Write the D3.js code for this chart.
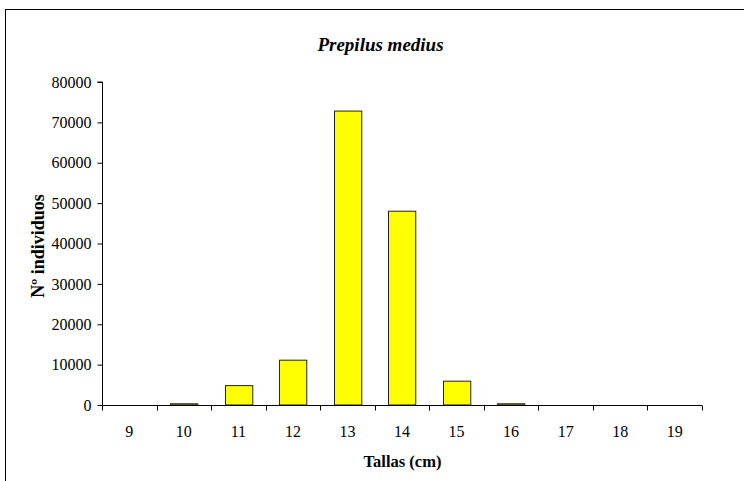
<!DOCTYPE html>
<html><head><meta charset="utf-8">
<script src="https://cdn.jsdelivr.net/npm/d3@7"></script>
<style>body{margin:0;background:#fff}svg{display:block}text{font-family:"Liberation Serif","Times New Roman",serif}</style>
</head><body>
<svg id="c" width="744" height="481"></svg>
<script>
const categories = ["9","10","11","12","13","14","15","16","17","18","19"];
const values = [0, 300, 4800, 11100, 72800, 48000, 5900, 300, 0, 0, 0];
const yTicks = [0,10000,20000,30000,40000,50000,60000,70000,80000];
const title = "Prepilus medius";
const xTitle = "Tallas (cm)";
const yTitle = "Nº individuos";

const svg = d3.select("#c");
svg.append("rect").attr("x",5.5).attr("y",9.5).attr("width",760).attr("height",490)
  .attr("fill","none").attr("stroke","#000").attr("stroke-width",1);

const m = {l:102, r:702, t:82, b:405};
const x = d3.scaleBand().domain(categories).range([m.l, m.r]).paddingInner(0.5).paddingOuter(0.25);
const y = d3.scaleLinear().domain([0,80000]).range([m.b, m.t]);

svg.selectAll("rect.bar").data(values).enter().append("rect").attr("class","bar")
  .attr("x",(d,i)=>Math.round(x(categories[i]))+0.5)
  .attr("y",d=>y(d))
  .attr("width",x.bandwidth())
  .attr("height",d=>y(0)-y(d))
  .attr("fill","#ffff00").attr("stroke","#222").attr("stroke-width",1)
  .attr("display",d=>d>0?null:"none");

// y axis
const ya = svg.append("g").attr("transform",`translate(${m.l+0.5},0)`)
  .call(d3.axisLeft(y).tickValues(yTicks).tickSize(5).tickPadding(6).tickFormat(d3.format("d")));
ya.selectAll("text").attr("font-size",16).attr("fill","#000").style("font-family","'Liberation Serif',serif");
ya.selectAll("line,path").attr("stroke","#000");
ya.select("path").attr("d",`M-5,${y(80000)}H0V${y(0)}`);

// x axis with boundary ticks
const xa = svg.append("g").attr("transform",`translate(0,${m.b+0.5})`);
xa.append("line").attr("x1",m.l).attr("x2",m.r).attr("y1",0).attr("y2",0).attr("stroke","#000");
const bounds = d3.range(categories.length+1);
xa.selectAll("line.t").data(bounds).enter().append("line").attr("class","t")
  .attr("x1",i=>Math.round(m.l + i*(m.r-m.l)/categories.length)+0.5)
  .attr("x2",i=>Math.round(m.l + i*(m.r-m.l)/categories.length)+0.5)
  .attr("y1",0).attr("y2",5).attr("stroke","#000");
xa.selectAll("text").data(categories).enter().append("text")
  .attr("x",d=>x(d)+x.bandwidth()/2).attr("y",31)
  .attr("text-anchor","middle").attr("font-size",16).attr("fill","#000").text(d=>d);

svg.append("text").attr("x",380.5).attr("y",51).attr("text-anchor","middle")
  .attr("font-size",19).attr("font-weight","bold").attr("font-style","italic").text(title);
svg.append("text").attr("x",402.5).attr("y",467).attr("text-anchor","middle")
  .attr("font-size",16.5).attr("font-weight","bold").text(xTitle);
svg.append("text").attr("transform","translate(44,246) rotate(-90)").attr("text-anchor","middle")
  .attr("font-size",18).attr("font-weight","bold").text(yTitle);
</script>
</body></html>
